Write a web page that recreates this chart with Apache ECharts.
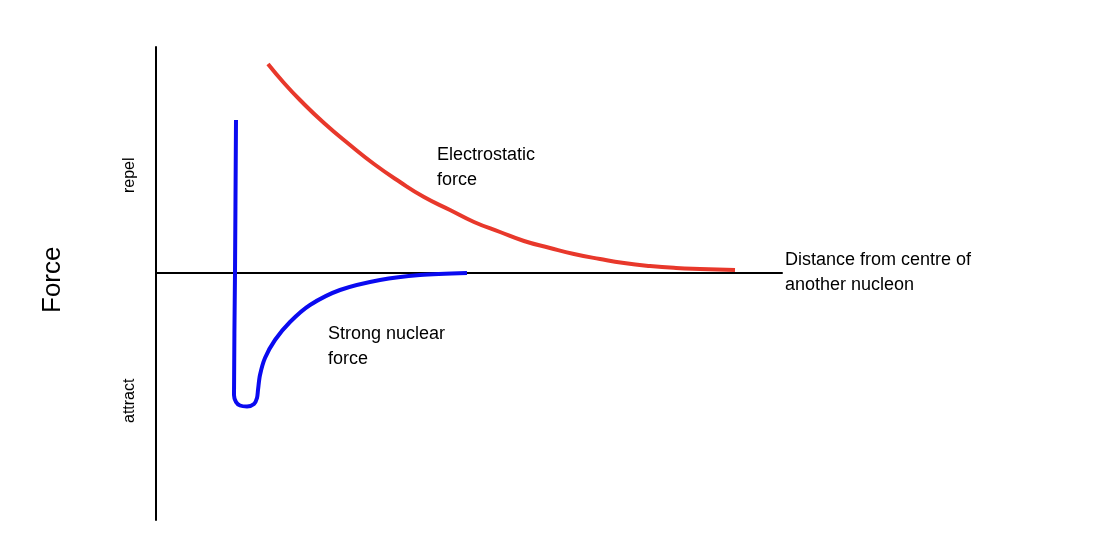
<!DOCTYPE html>
<html><head><meta charset="utf-8">
<script src="https://cdn.jsdelivr.net/npm/echarts@6/dist/echarts.min.js"></script>
<style>html,body{margin:0;background:#fff}#c{width:1116px;height:546px}</style>
</head><body><div id="c"></div>
<script>
const electroX=[112,128,144,168,194,218,244,268,294,318,344,368,394,418,444,468,494,520,544,579];
const electroY=[209,190,173,150,128,109,91,76,63,51,41,32,25,19,14,10,7,5,4,3];
const strongX=[80,79,78,80,84,91,98,101,102,104,109,119,134,154,184,224,264,311];
const strongY=[153,0,-122,-129,-132.5,-133.5,-131,-125,-117,-102,-85,-67,-49,-32,-17,-7,-2,0];
const labels={electro:"Electrostatic\nforce",strong:"Strong nuclear\nforce",xName:"Distance from centre of\nanother nucleon",yName:"Force",repel:"repel",attract:"attract"};
const zip=(a,b)=>a.map((v,i)=>[v,b[i]]);
const chart=echarts.init(document.getElementById('c'));
const F='Liberation Sans, Arial, sans-serif';
chart.setOption({
 animation:false,
 grid:{left:156,width:626,top:47,bottom:26},
 xAxis:{type:'value',min:0,max:626,axisLine:{onZero:true,lineStyle:{color:'#000',width:2}},axisTick:{show:false},axisLabel:{show:false},splitLine:{show:false}},
 yAxis:{type:'value',min:-247,max:226,axisLine:{show:true,lineStyle:{color:'#000',width:2}},axisTick:{show:false},axisLabel:{show:false},splitLine:{show:false}},
 series:[
  {type:'line',data:zip(electroX,electroY),smooth:true,showSymbol:false,lineStyle:{color:'#e8382b',width:4}},
  {type:'line',data:zip(strongX,strongY),smooth:0.3,showSymbol:false,lineStyle:{color:'#0a0af0',width:4,join:'round',cap:'butt'}}
 ],
 graphic:[
  {type:'text',left:437,top:143,style:{text:labels.electro,font:'18px '+F,fill:'#000',lineHeight:25}},
  {type:'text',left:328,top:322,style:{text:labels.strong,font:'18px '+F,fill:'#000',lineHeight:25}},
  {type:'text',left:785,top:248,style:{text:labels.xName,font:'18px '+F,fill:'#000',lineHeight:25}},
  {type:'text',x:40,y:313,rotation:Math.PI/2,style:{text:labels.yName,font:'26px '+F,fill:'#000'}},
  {type:'text',x:122,y:193,rotation:Math.PI/2,style:{text:labels.repel,font:'16px '+F,fill:'#000'}},
  {type:'text',x:122,y:423,rotation:Math.PI/2,style:{text:labels.attract,font:'16px '+F,fill:'#000'}}
 ]
});
</script></body></html>
